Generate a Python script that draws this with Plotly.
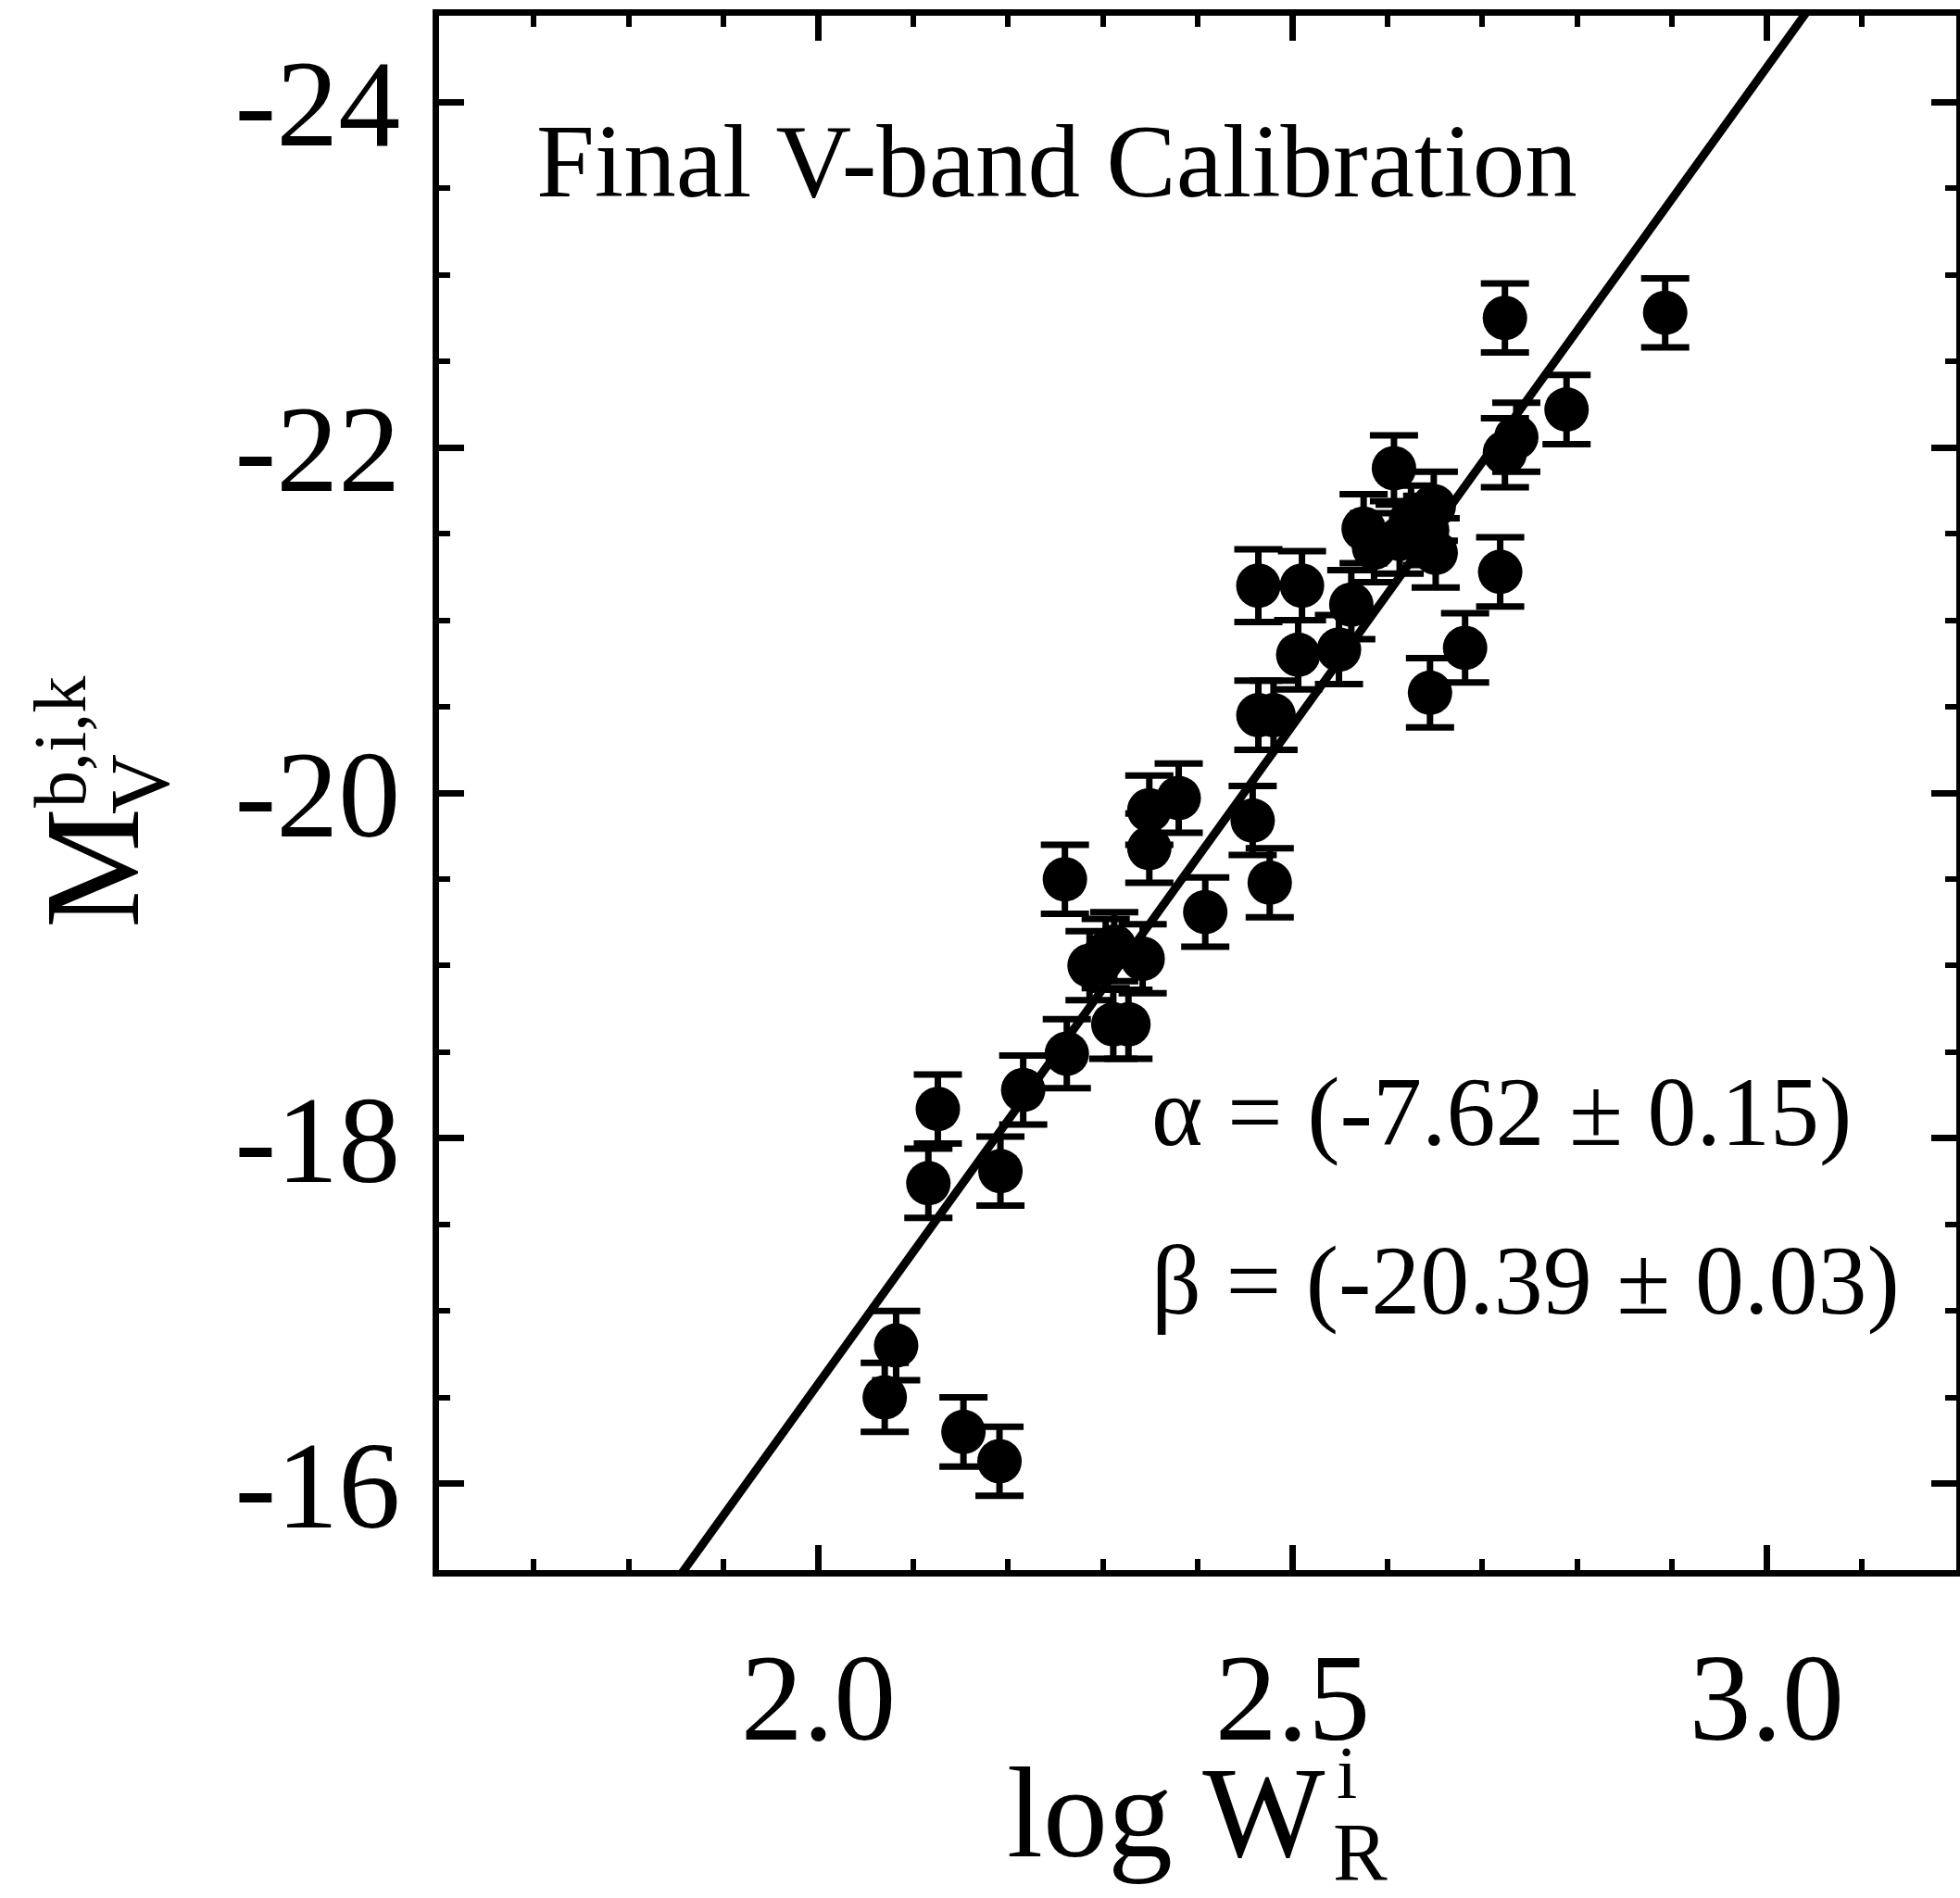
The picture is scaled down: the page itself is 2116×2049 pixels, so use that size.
import plotly.graph_objects as go

# ---- data ----
log_w = [2.070, 2.082, 2.153, 2.191, 2.126, 2.116, 2.192, 2.216, 2.262, 2.260,
         2.286, 2.303, 2.312, 2.311, 2.327, 2.342, 2.349, 2.349, 2.380, 2.408,
         2.458, 2.476, 2.464, 2.480, 2.506, 2.464, 2.510, 2.549, 2.562, 2.575,
         2.586, 2.607, 2.613, 2.625, 2.642, 2.649, 2.651, 2.645, 2.682, 2.719,
         2.724, 2.736, 2.724, 2.789, 2.893]
m_v = [-16.50, -16.80, -16.30, -16.13, -18.17, -17.74, -17.81, -18.28, -18.49, -19.50,
       -19.00, -19.07, -19.11, -18.66, -18.66, -19.04, -19.68, -19.90, -19.97, -19.31,
       -19.84, -19.48, -20.45, -20.45, -20.80, -21.20, -21.20, -20.83, -21.09, -21.53,
       -21.42, -21.88, -21.47, -21.58, -21.52, -21.66, -21.39, -20.58, -20.84, -21.28,
       -21.97, -22.06, -22.75, -22.22, -22.78]
m_err = [0.20, 0.20, 0.20, 0.20, 0.20, 0.20, 0.20, 0.20, 0.20, 0.20,
         0.20, 0.20, 0.20, 0.20, 0.20, 0.20, 0.20, 0.20, 0.20, 0.20,
         0.20, 0.20, 0.20, 0.20, 0.20, 0.21, 0.20, 0.20, 0.20, 0.20,
         0.20, 0.19, 0.20, 0.20, 0.20, 0.20, 0.20, 0.20, 0.20, 0.20,
         0.20, 0.20, 0.20, 0.20, 0.20]

alpha = -7.62
beta = -20.39
x_pivot = 2.5
fit_x = [1.6, 3.2]
fit_y = [alpha * (x - x_pivot) + beta for x in fit_x]

x_tickvals = [2.0, 2.5, 3.0]
x_ticktext = ["2.0", "2.5", "3.0"]
y_tickvals = [-24, -22, -20, -18, -16]
y_ticktext = ["-24", "-22", "-20", "-18", "-16"]

FONT = "Liberation Serif, Times New Roman, serif"

fig = go.Figure()
fig.add_trace(go.Scatter(
    x=fit_x, y=fit_y, mode="lines",
    line=dict(color="black", width=9), hoverinfo="skip", showlegend=False))
fig.add_trace(go.Scatter(
    x=log_w, y=m_v, mode="markers",
    marker=dict(color="black", size=48, line=dict(width=0)),
    error_y=dict(type="data", array=m_err, visible=True, color="black",
                 thickness=7, width=26),
    showlegend=False))

axis_common = dict(
    showline=True, linecolor="black", linewidth=7, mirror="allticks",
    ticks="inside", tickcolor="black", tickwidth=7, ticklen=27,
    showgrid=False, zeroline=False, automargin=False,
    tickfont=dict(family=FONT, size=134, color="black"),
)

fig.update_xaxes(
    range=[1.6, 3.2], tickmode="array", tickvals=x_tickvals, ticktext=x_ticktext,
    minor=dict(tickmode="linear", tick0=1.6, dtick=0.1, ticks="inside",
               ticklen=12, tickwidth=6, tickcolor="black", showgrid=False),
    ticklabelstandoff=15,
    **axis_common)
fig.update_yaxes(
    range=[-15.5, -24.5], tickmode="array", tickvals=y_tickvals, ticktext=y_ticktext,
    minor=dict(tickmode="linear", tick0=-24, dtick=0.5, ticks="inside",
               ticklen=12, tickwidth=6, tickcolor="black", showgrid=False),
    ticklabelstandoff=8,
    **axis_common)

def txt(text, x, y, size, xanchor="center", angle=0):
    fig.add_annotation(text=text, xref="paper", yref="paper", x=x, y=y,
                       xanchor=xanchor, yanchor="middle", textangle=angle,
                       showarrow=False, borderpad=0,
                       font=dict(family=FONT, size=size, color="black"))

# x-axis title: log W with stacked super/subscript
txt("log W", 0.3736, -0.1561, 140, xanchor="left")
txt("i", 0.5910, -0.1305, 80, xanchor="left")
txt("R", 0.5885, -0.1812, 88, xanchor="left")

# y-axis title: M with stacked super/subscript (rotated)
txt("M", -0.2283, 0.4517, 146, angle=-90)
txt("V", -0.1966, 0.5060, 90, angle=-90)
txt("b,i,k", -0.2497, 0.5328, 80, angle=-90)

# in-plot labels
txt("Final V-band Calibration", 0.0634, 0.907, 113, xanchor="left")
txt("\u03b1 = (-7.62 \u00b1 0.15)", 0.469, 0.2944, 106, xanchor="left")
txt("\u03b2 = (-20.39 \u00b1 0.03)", 0.469, 0.186, 106, xanchor="left")

fig.update_layout(
    template="none",
    width=2116, height=2049,
    margin=dict(l=474, r=4, t=17, b=354),
    paper_bgcolor="white", plot_bgcolor="white",
    font=dict(family=FONT, color="black"),
    showlegend=False,
)

fig.write_html("out.html")
